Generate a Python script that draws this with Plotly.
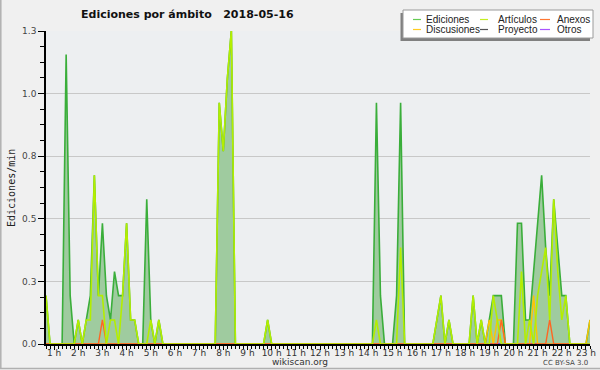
import plotly.graph_objects as go

# 10-minute buckets starting at 00:40 (minutes since midnight)
minutes = list(range(40, 40 + 136 * 10, 10))
hours = [m / 60 for m in minutes]

ediciones = [
    0.193, 0, 0, 0, 0, 1.156, 0.193, 0, 0.096, 0, 0.096, 0.193,
    0.674, 0.193, 0.482, 0.193, 0.096, 0.289, 0.193, 0.193, 0.482, 0.096, 0.096, 0,
    0, 0.578, 0.096, 0, 0.096, 0, 0, 0, 0, 0, 0, 0,
    0, 0, 0, 0, 0, 0, 0, 0.963, 0.770, 1.059, 1.252, 0,
    0, 0, 0, 0, 0, 0, 0, 0.096, 0, 0, 0, 0,
    0, 0, 0, 0, 0, 0, 0, 0, 0, 0, 0, 0,
    0, 0, 0, 0, 0, 0, 0, 0, 0, 0, 0.963, 0.193,
    0, 0, 0, 0.193, 0.963, 0, 0, 0, 0, 0, 0, 0,
    0, 0.096, 0.193, 0, 0.096, 0, 0, 0, 0, 0, 0.193, 0,
    0.096, 0, 0.096, 0.193, 0.193, 0.193, 0, 0, 0, 0.482, 0.482, 0.096,
    0.096, 0.289, 0.482, 0.674, 0.385, 0.193, 0.578, 0.385, 0.193, 0.193, 0, 0,
    0, 0, 0, 0.096,
]
articulos = [
    0.193, 0, 0, 0, 0, 0, 0, 0, 0.096, 0, 0.096, 0.096,
    0.674, 0.193, 0.193, 0, 0.096, 0.096, 0, 0.193, 0.482, 0.096, 0.096, 0,
    0, 0, 0.096, 0, 0.096, 0, 0, 0, 0, 0, 0, 0,
    0, 0, 0, 0, 0, 0, 0, 0.963, 0.770, 1.059, 1.252, 0,
    0, 0, 0, 0, 0, 0, 0, 0.096, 0, 0, 0, 0,
    0, 0, 0, 0, 0, 0, 0, 0, 0, 0, 0, 0,
    0, 0, 0, 0, 0, 0, 0, 0, 0, 0, 0.096, 0,
    0, 0, 0, 0, 0.385, 0, 0, 0, 0, 0, 0, 0,
    0, 0.096, 0.193, 0, 0.096, 0, 0, 0, 0, 0, 0.193, 0,
    0.096, 0, 0, 0.193, 0.096, 0, 0, 0, 0, 0, 0.289, 0,
    0.096, 0, 0.193, 0.289, 0.385, 0.096, 0.578, 0.289, 0.096, 0.193, 0, 0,
    0, 0, 0, 0,
]
discusiones = [
    0, 0, 0, 0, 0, 0, 0, 0, 0, 0, 0, 0,
    0, 0, 0, 0, 0, 0, 0, 0, 0, 0, 0, 0,
    0, 0, 0, 0, 0, 0, 0, 0, 0, 0, 0, 0,
    0, 0, 0, 0, 0, 0, 0, 0, 0, 0, 0, 0,
    0, 0, 0, 0, 0, 0, 0, 0, 0, 0, 0, 0,
    0, 0, 0, 0, 0, 0, 0, 0, 0, 0, 0, 0,
    0, 0, 0, 0, 0, 0, 0, 0, 0, 0, 0, 0,
    0, 0, 0, 0, 0, 0, 0, 0, 0, 0, 0, 0,
    0, 0, 0, 0, 0, 0, 0, 0, 0, 0, 0, 0,
    0, 0, 0.096, 0, 0.096, 0.096, 0, 0, 0, 0, 0, 0,
    0, 0.193, 0, 0, 0, 0, 0, 0, 0, 0, 0, 0,
    0, 0, 0, 0.096,
]
anexos = [
    0, 0, 0, 0, 0, 0, 0, 0, 0, 0, 0, 0,
    0, 0, 0.096, 0, 0, 0, 0, 0, 0, 0, 0, 0,
    0, 0, 0, 0, 0, 0, 0, 0, 0, 0, 0, 0,
    0, 0, 0, 0, 0, 0, 0, 0, 0, 0, 0, 0,
    0, 0, 0, 0, 0, 0, 0, 0, 0, 0, 0, 0,
    0, 0, 0, 0, 0, 0, 0, 0, 0, 0, 0, 0,
    0, 0, 0, 0, 0, 0, 0, 0, 0, 0, 0, 0,
    0, 0, 0, 0, 0, 0, 0, 0, 0, 0, 0, 0,
    0, 0, 0, 0, 0, 0, 0, 0, 0, 0, 0, 0,
    0, 0, 0, 0, 0, 0.096, 0, 0, 0, 0, 0, 0,
    0, 0, 0, 0, 0, 0.096, 0, 0, 0, 0, 0, 0,
    0, 0, 0, 0,
]
proyecto = [0] * 136
otros = [0] * 136

hour_ticks = list(range(1, 24))
hour_labels = [f"{h} h" for h in hour_ticks]
y_ticks = [0, 0.25, 0.5, 0.75, 1.0, 1.25]
y_labels = ["0.0", "0.3", "0.5", "0.8", "1.0", "1.3"]

legend_names = ["Ediciones", "Artículos", "Anexos", "Discusiones", "Proyecto", "Otros"]
legend_colors = ["#66cc55", "#c4ee22", "#ff7733", "#ffcc22", "#555555", "#aa55ff"]

fig = go.Figure()
fig.add_trace(go.Scatter(x=hours, y=ediciones, mode="lines", name="Ediciones",
                         line=dict(color="#3aae3a", width=1.6), fill="tozeroy",
                         fillcolor="#9fcb9f", showlegend=False))
fig.add_trace(go.Scatter(x=hours, y=proyecto, mode="lines", name="Proyecto",
                         line=dict(color="#555555", width=1.4), showlegend=False))
fig.add_trace(go.Scatter(x=hours, y=otros, mode="lines", name="Otros",
                         line=dict(color="#9933ff", width=1.4), showlegend=False))
fig.add_trace(go.Scatter(x=hours, y=discusiones, mode="lines", name="Discusiones",
                         line=dict(color="#ffc400", width=1.4), showlegend=False))
fig.add_trace(go.Scatter(x=hours, y=anexos, mode="lines", name="Anexos",
                         line=dict(color="#ff6622", width=1.4), showlegend=False))
fig.add_trace(go.Scatter(x=hours, y=articulos, mode="lines", name="Artículos",
                         line=dict(color="#b4ee00", width=1.6), showlegend=False))

# plot area in pixels: x 46..590, y 31..344
L, R, T, B = 46, 590, 31, 344
def px(x):
    return (x - L) / (R - L)
def py(y):
    return (B - y) / (B - T)

shapes = []
annotations = []
# frame lines of the image
shapes.append(dict(type="line", xref="paper", yref="paper", x0=px(0.8), x1=px(0.8),
                   y0=py(0), y1=py(368.5), line=dict(color="#b0b0b0", width=1.5)))
shapes.append(dict(type="line", xref="paper", yref="paper", x0=px(0), x1=px(600),
                   y0=py(368.5), y1=py(368.5), line=dict(color="#b0b0b0", width=1.5)))
# legend shadow and box
shapes.append(dict(type="rect", xref="paper", yref="paper", x0=px(400.5), x1=px(590),
                   y0=py(41), y1=py(13), fillcolor="#808080", line=dict(width=0)))
shapes.append(dict(type="rect", xref="paper", yref="paper", x0=px(403), x1=px(593),
                   y0=py(38), y1=py(10), fillcolor="#ffffff",
                   line=dict(color="#9a9a9a", width=1)))
cols = [(413, 421, 424), (480, 488, 496), (540, 550, 555)]
rows = [19.5, 29.5]
for i, (name, color) in enumerate(zip(legend_names, legend_colors)):
    r, c = divmod(i, 3)
    x0, x1, xt = cols[c]
    yy = rows[r]
    shapes.append(dict(type="line", xref="paper", yref="paper", x0=px(x0), x1=px(x1),
                       y0=py(yy), y1=py(yy), line=dict(color=color, width=1.2)))
    annotations.append(dict(xref="paper", yref="paper", x=px(xt), y=py(yy),
                            xanchor="left", yanchor="middle", text=name, showarrow=False,
                            font=dict(family="Liberation Sans", size=10, color="#222")))

annotations.append(dict(xref="paper", yref="paper", x=px(187.5), y=py(14),
                        xanchor="center", yanchor="middle",
                        text="Ediciones por ámbito   2018-05-16", showarrow=False,
                        font=dict(family="DejaVu Sans", size=11, color="#111",
                                  weight="bold")))
annotations.append(dict(xref="paper", yref="paper", x=px(11), y=py(188),
                        xanchor="center", yanchor="middle", textangle=-90,
                        text="Ediciones/min", showarrow=False,
                        font=dict(family="DejaVu Sans Mono", size=10, color="#222")))
annotations.append(dict(xref="paper", yref="paper", x=px(300), y=py(362),
                        xanchor="center", yanchor="middle", text="wikiscan.org",
                        showarrow=False, font=dict(family="DejaVu Sans", size=9, color="#333")))
annotations.append(dict(xref="paper", yref="paper", x=px(590), y=py(363),
                        xanchor="right", yanchor="middle", text="CC BY-SA 3.0",
                        showarrow=False, font=dict(family="DejaVu Sans", size=7, color="#444")))

fig.update_layout(
    width=600, height=370,
    margin=dict(l=L, r=600 - R, t=T, b=370 - B, pad=0),
    paper_bgcolor="#f0f0f0", plot_bgcolor="#edeff1",
    shapes=shapes, annotations=annotations, showlegend=False,
    xaxis=dict(range=[hours[0], hours[-1]], tickmode="array", tickvals=hour_ticks,
               ticktext=hour_labels, showline=True, linecolor="#000", linewidth=1.5,
               ticks="outside", ticklen=4, tickcolor="#000", tickwidth=1,
               ticklabelstandoff=-5,
               showgrid=False, zeroline=False, automargin=False,
               tickfont=dict(family="DejaVu Sans", size=9, color="#333"),
               minor=dict(tickmode="linear", tick0=0, dtick=1 / 6, ticks="outside",
                          ticklen=3, tickcolor="#000", tickwidth=1, showgrid=False)),
    yaxis=dict(range=[0, 1.25], tickmode="array", tickvals=y_ticks, ticktext=y_labels,
               showline=True, linecolor="#000", linewidth=1.5, ticks="outside",
               ticklen=6, tickcolor="#000", tickwidth=1, showgrid=True,
               gridcolor="#c8c8c8", gridwidth=1, zeroline=False, automargin=False,
               tickfont=dict(family="DejaVu Sans", size=9, color="#444"),
               minor=dict(tickmode="linear", tick0=0, dtick=0.0625, ticks="outside",
                          ticklen=4, tickcolor="#000", tickwidth=1, showgrid=False)),
)

fig.write_html("out.html",
               config={"displayModeBar": False},
               post_script="document.body.style.margin='0';"
                           "document.body.style.overflow='hidden';")
